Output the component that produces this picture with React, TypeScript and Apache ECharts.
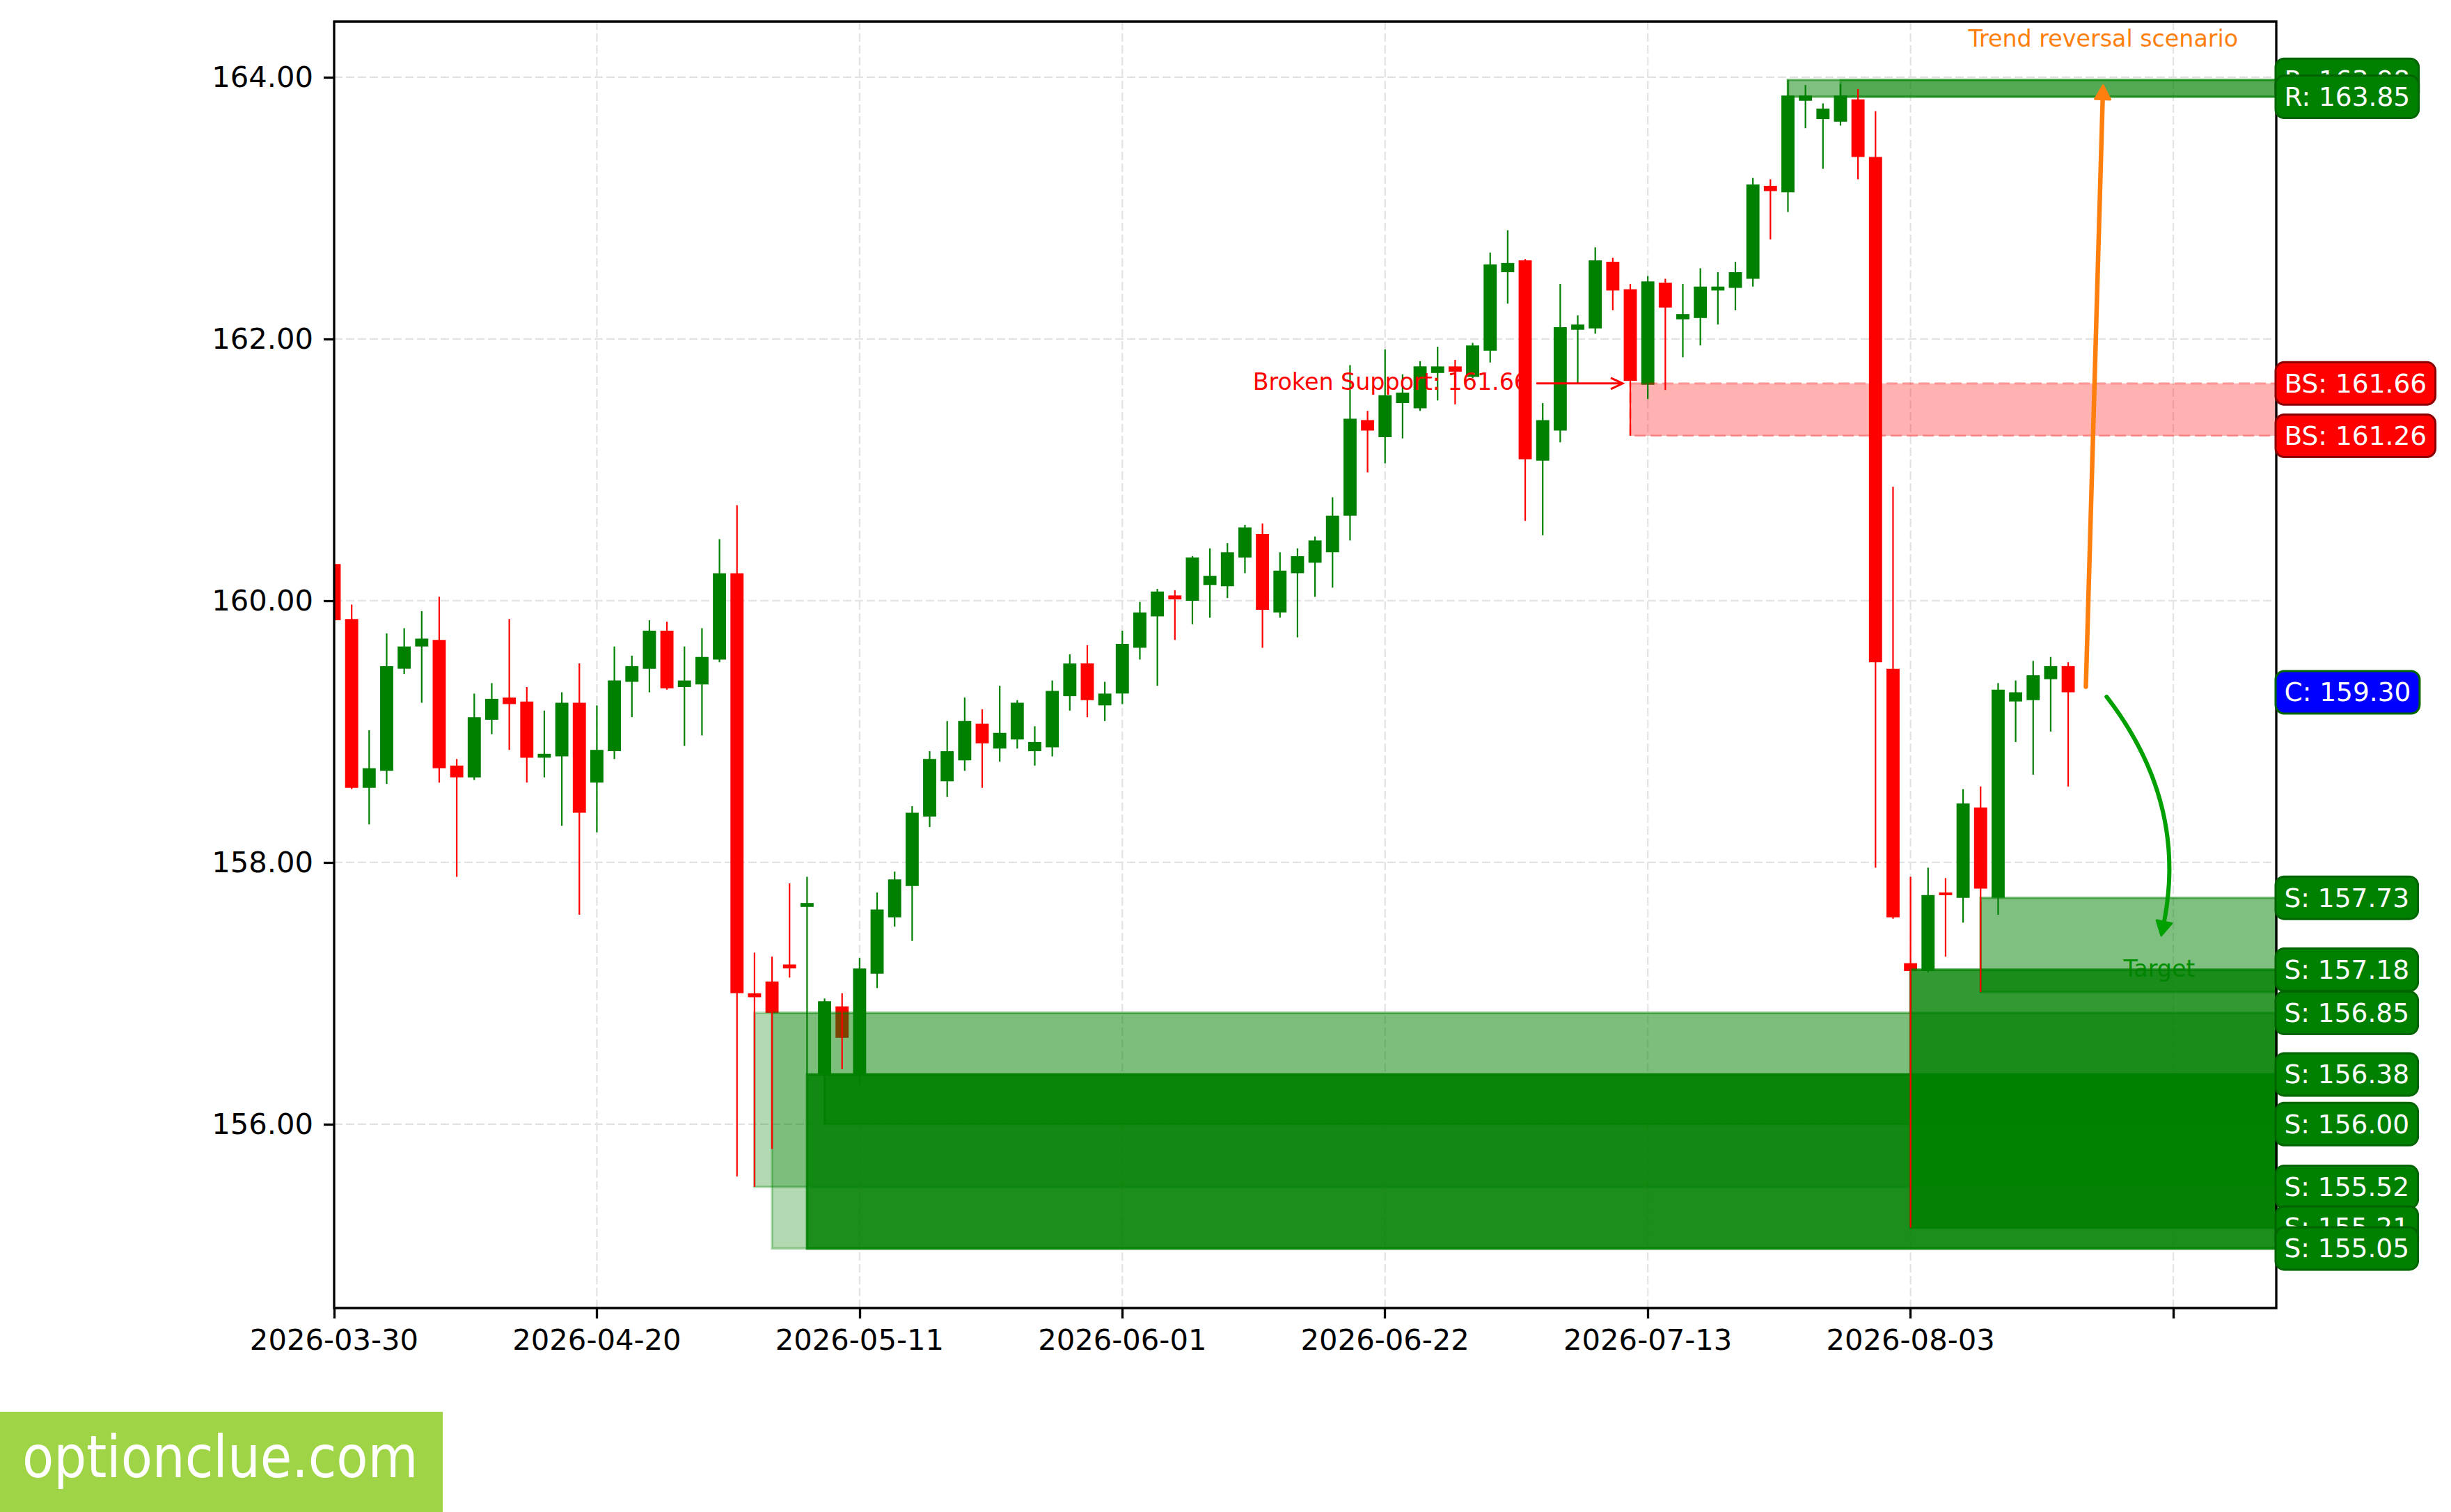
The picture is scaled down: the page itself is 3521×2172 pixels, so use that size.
import React, { useEffect, useRef } from 'react';
import * as echarts from 'echarts';

// ---------- data ----------
const OPEN = [
  160.28, 159.86, 158.57, 158.70, 159.48, 159.65, 159.70, 158.74, 158.65, 159.09,
  159.26, 159.23, 158.80, 158.81, 159.22, 158.61, 158.85, 159.38, 159.48, 159.77,
  159.34, 159.36, 159.55, 160.21, 157.00, 157.09, 157.22, 157.66, 156.38, 156.90,
  156.38, 157.15, 157.58, 157.82, 158.35, 158.62, 158.78, 159.06, 158.87, 158.94,
  158.85, 158.88, 159.27, 159.52, 159.20, 159.29, 159.64, 159.88, 160.04, 160.00,
  160.12, 160.11, 160.33, 160.51, 159.91, 160.21, 160.29, 160.37, 160.65, 161.38,
  161.25, 161.51, 161.47, 161.74, 161.79, 161.71, 161.91, 162.51, 162.60, 161.07,
  161.30, 162.07, 162.08, 162.59, 162.38, 161.65, 162.43, 162.15, 162.16, 162.37,
  162.39, 162.46, 163.17, 163.12, 163.82, 163.68, 163.66, 163.83, 163.39, 159.48,
  157.23, 157.17, 157.77, 157.73, 158.42, 157.73, 159.23, 159.24, 159.40, 159.50,
];
const CLOSE = [
  159.85, 158.57, 158.72, 159.50, 159.65, 159.71, 158.72, 158.65, 159.11, 159.25,
  159.21, 158.80, 158.83, 159.22, 158.38, 158.86, 159.39, 159.50, 159.77, 159.33,
  159.39, 159.57, 160.21, 157.00, 156.97, 156.85, 157.19, 157.69, 156.94, 156.66,
  157.19, 157.64, 157.87, 158.38, 158.79, 158.85, 159.08, 158.91, 158.99, 159.22,
  158.92, 159.31, 159.52, 159.24, 159.29, 159.67, 159.91, 160.07, 160.01, 160.33,
  160.19, 160.37, 160.56, 159.93, 160.23, 160.34, 160.46, 160.65, 161.39, 161.30,
  161.57, 161.59, 161.79, 161.79, 161.75, 161.95, 162.57, 162.58, 161.08, 161.38,
  162.09, 162.11, 162.60, 162.37, 161.68, 162.44, 162.24, 162.19, 162.40, 162.40,
  162.51, 163.18, 163.13, 163.86, 163.86, 163.76, 163.86, 163.39, 159.53, 157.58,
  157.17, 157.75, 157.75, 158.45, 157.80, 159.32, 159.30, 159.43, 159.50, 159.30,
];
const LOW = [
  159.85, 158.56, 158.29, 158.60, 159.44, 159.22, 158.61, 157.89, 158.63, 158.98,
  158.86, 158.61, 158.65, 158.28, 157.60, 158.23, 158.79, 159.11, 159.30, 159.32,
  158.89, 158.97, 159.53, 155.60, 155.52, 155.81, 157.12, 156.38, 156.00, 156.42,
  156.30, 157.04, 157.51, 157.40, 158.27, 158.50, 158.70, 158.57, 158.77, 158.87,
  158.74, 158.81, 159.16, 159.11, 159.08, 159.21, 159.55, 159.35, 159.70, 159.82,
  159.87, 160.02, 160.21, 159.64, 159.87, 159.72, 160.03, 160.10, 160.46, 160.98,
  161.05, 161.24, 161.45, 161.53, 161.50, 161.70, 161.82, 162.27, 160.61, 160.50,
  161.21, 161.66, 162.04, 162.22, 161.26, 161.54, 161.61, 161.86, 161.95, 162.11,
  162.22, 162.40, 162.76, 162.97, 163.61, 163.30, 163.63, 163.22, 157.96, 157.57,
  155.21, 157.16, 157.28, 157.54, 157.01, 157.60, 158.92, 158.67, 159.00, 158.58,
];
const HIGH = [
  160.28, 159.97, 159.01, 159.75, 159.79, 159.92, 160.03, 158.79, 159.29, 159.37,
  159.86, 159.34, 159.16, 159.30, 159.52, 159.20, 159.65, 159.58, 159.85, 159.84,
  159.65, 159.79, 160.47, 160.73, 157.31, 157.28, 157.84, 157.89, 156.96, 157.00,
  157.27, 157.77, 157.93, 158.43, 158.85, 159.08, 159.26, 159.17, 159.35, 159.24,
  159.04, 159.39, 159.59, 159.66, 159.38, 159.77, 159.99, 160.09, 160.08, 160.34,
  160.40, 160.44, 160.58, 160.59, 160.37, 160.40, 160.49, 160.79, 161.80, 161.45,
  161.92, 161.73, 161.83, 161.94, 161.84, 161.97, 162.66, 162.83, 162.61, 161.51,
  162.42, 162.18, 162.70, 162.62, 162.42, 162.48, 162.46, 162.42, 162.54, 162.51,
  162.59, 163.23, 163.22, 163.98, 163.94, 163.80, 163.95, 163.91, 163.74, 160.87,
  157.89, 157.96, 157.88, 158.56, 158.58, 159.37, 159.39, 159.54, 159.57, 159.53,
];

const X_TICKS = [0, 15, 30, 45, 60, 75, 90, 105];
const X_TICK_LABELS = ['2026-03-30', '2026-04-20', '2026-05-11', '2026-06-01', '2026-06-22', '2026-07-13', '2026-08-03', ''];
const Y_TICKS = [156, 158, 160, 162, 164];
const X_MIN = 0;
const X_MAX = 110.88;
const Y_MIN = 154.595;
const Y_MAX = 164.425;
const CANDLE_WIDTH = 0.75; // in candle-index units

// zones: start candle index, top, bottom, opacity, kind
const ZONE_START = [24, 25, 27, 28, 90, 94, 83, 86, 74];
const ZONE_TOP = [156.85, 156.85, 156.38, 156.38, 157.18, 157.73, 163.98, 163.98, 161.66];
const ZONE_BOTTOM = [155.52, 155.05, 155.05, 156.0, 155.21, 157.01, 163.85, 163.85, 161.26];
const ZONE_ALPHA = [0.3, 0.3, 0.85, 0.45, 0.8, 0.5, 0.5, 0.34, 0.3];
const ZONE_KIND = ['S', 'S', 'S', 'S', 'S', 'S', 'R', 'R', 'BS'];

// right-hand level labels
const LEVEL_VALUES = [163.98, 163.85, 161.66, 161.26, 159.3, 157.73, 157.18, 156.85, 156.38, 156.0, 155.52, 155.21, 155.05];
const LEVEL_KIND = ['R', 'R', 'BS', 'BS', 'C', 'S', 'S', 'S', 'S', 'S', 'S', 'S', 'S'];

// annotations (data coordinates)
const TREND_FROM = [100, 159.3];
const TREND_TO = [101, 163.98];
const TREND_TEXT_POS = [101, 164.295];
const TREND_TEXT = 'Trend reversal scenario';
const BS_ARROW_FROM = [68, 161.66];
const BS_ARROW_TO = [74, 161.66];
const BS_TEXT_POS = [68.2, 161.672];
const BS_TEXT = 'Broken Support: 161.66';
const TARGET_FROM = [101, 159.3];
const TARGET_TO = [104.25, 157.4];
const TARGET_TEXT_POS = [104.2, 157.19];
const TARGET_TEXT = 'Target';

// ---------- styles ----------
const FONT = "'DejaVu Sans', Verdana, sans-serif";
const GREEN = '#008000';
const RED = '#ff0000';
const ORANGE = '#ff7f0e';
const ARROW_GREEN = '#00a000';
const LABEL_COLORS: Record<string, [string, string]> = {
  S: ['#008000', '#006400'],
  R: ['#008000', '#006400'],
  BS: ['#ff0000', '#8b0000'],
  C: ['#0000ff', '#006400'],
};

function unit(a: number[], b: number[]) {
  const dx = b[0] - a[0];
  const dy = b[1] - a[1];
  const l = Math.hypot(dx, dy) || 1;
  return [dx / l, dy / l];
}

function head(tip: number[], u: number[], len: number, half: number, color: string) {
  const bx = tip[0] - u[0] * len;
  const by = tip[1] - u[1] * len;
  const nx = -u[1];
  const ny = u[0];
  return {
    type: 'polygon',
    shape: { points: [[tip[0], tip[1]], [bx + nx * half, by + ny * half], [bx - nx * half, by - ny * half]] },
    style: { fill: color, stroke: color, lineWidth: 3, lineJoin: 'round' },
  };
}

function buildOption() {
  const candleData = OPEN.map((o, i) => [i, o, CLOSE[i], LOW[i], HIGH[i]]);
  const wickData = OPEN.map((o, i) => [i, LOW[i], HIGH[i]]);
  const zoneData = ZONE_START.map((s, i) => [s, ZONE_TOP[i], ZONE_BOTTOM[i]]);
  const gridData = [
    ...Y_TICKS.map((v) => [X_MIN, v, 0]),
    ...X_TICKS.filter((v) => v > X_MIN).map((v) => [v, Y_MIN, 1]),
  ];
  const labelData = LEVEL_VALUES.map((v, i) => {
    const k = LEVEL_KIND[i];
    return {
      value: [X_MAX, v],
      label: {
        formatter: `${k}: ${v.toFixed(2)}`,
        backgroundColor: LABEL_COLORS[k][0],
        borderColor: LABEL_COLORS[k][1],
      },
    };
  });
  const annoData = [
    [TREND_FROM[0], TREND_FROM[1]],
    [TREND_TEXT_POS[0], TREND_TEXT_POS[1]],
    [BS_ARROW_FROM[0], BS_ARROW_FROM[1]],
    [BS_TEXT_POS[0], BS_TEXT_POS[1]],
    [TARGET_FROM[0], TARGET_FROM[1]],
  ];

  return {
    animation: false,
    backgroundColor: '#ffffff',
    grid: {
      left: 480,
      top: 31,
      width: 2790,
      height: 1848,
      show: true,
      borderColor: '#000',
      borderWidth: 3.3,
      backgroundColor: 'rgba(0,0,0,0)',
      z: 10,
    },
    xAxis: {
      type: 'value',
      min: X_MIN,
      max: X_MAX,
      splitLine: { show: false },
      axisLine: { show: false },
      axisTick: { show: true, customValues: X_TICKS, length: 15, lineStyle: { color: '#000', width: 3.3 } },
      axisLabel: {
        customValues: X_TICKS,
        formatter: (v: number) => {
          const i = X_TICKS.indexOf(v);
          return i >= 0 ? X_TICK_LABELS[i] : '';
        },
        fontSize: 41.7,
        lineHeight: 42,
        margin: 24,
        color: '#000',
        fontFamily: FONT,
      },
    },
    yAxis: {
      type: 'value',
      min: Y_MIN,
      max: Y_MAX,
      splitLine: { show: false },
      axisLine: { show: false },
      axisTick: { show: true, customValues: Y_TICKS, length: 15, lineStyle: { color: '#000', width: 3.3 } },
      axisLabel: {
        customValues: Y_TICKS,
        formatter: (v: number) => v.toFixed(2),
        fontSize: 41.7,
        margin: 30,
        color: '#000',
        fontFamily: FONT,
      },
    },
    graphic: [
      {
        type: 'rect',
        left: 0,
        top: 2028,
        shape: { width: 636, height: 144 },
        style: { fill: '#9fd447' },
        silent: true,
      },
      {
        type: 'text',
        x: 32,
        y: 2093,
        scaleX: 0.88,
        style: { text: 'optionclue.com', fill: '#ffffff', fontSize: 84, fontFamily: FONT, align: 'left', verticalAlign: 'middle' },
        silent: true,
      },
    ],
    series: [
      {
        name: 'grid',
        type: 'custom',
        z: 1,
        silent: true,
        data: gridData,
        renderItem: (params: any, api: any) => {
          const kind = api.value(2);
          const v = kind === 0 ? api.value(1) : api.value(0);
          const p1 = kind === 0 ? api.coord([X_MIN, v]) : api.coord([v, Y_MIN]);
          const p2 = kind === 0 ? api.coord([X_MAX, v]) : api.coord([v, Y_MAX]);
          return {
            type: 'line',
            shape: { x1: p1[0], y1: p1[1], x2: p2[0], y2: p2[1] },
            style: { stroke: '#e3e3e3', lineWidth: 2.2, lineDash: [12, 5], fill: 'none' },
          };
        },
      },
      {
        name: 'candle bodies',
        type: 'custom',
        z: 2,
        silent: true,
        clip: true,
        data: candleData,
        encode: { x: 0, y: [1, 2, 3, 4] },
        renderItem: (params: any, api: any) => {
          const x = api.value(0);
          const o = api.value(1);
          const c = api.value(2);
          const w = api.size([CANDLE_WIDTH, 0])[0];
          const pTop = api.coord([x, Math.max(o, c)]);
          const pBot = api.coord([x, Math.min(o, c)]);
          const h = Math.max(pBot[1] - pTop[1], 2.2);
          return {
            type: 'rect',
            shape: { x: pTop[0] - w / 2, y: pTop[1], width: w, height: h },
            style: { fill: c >= o ? GREEN : RED, stroke: 'none' },
          };
        },
      },
      {
        name: 'target-text',
        type: 'custom',
        z: 2,
        silent: true,
        data: [[TARGET_TEXT_POS[0], TARGET_TEXT_POS[1]]],
        renderItem: (params: any, api: any) => {
          const p = api.coord([api.value(0), api.value(1)]);
          return {
            type: 'text',
            x: p[0],
            y: p[1],
            style: { text: TARGET_TEXT, fill: ARROW_GREEN, fontSize: 33.3, fontFamily: FONT, align: 'center', verticalAlign: 'middle' },
          };
        },
      },
      {
        name: 'zones',
        type: 'custom',
        z: 3,
        silent: true,
        data: zoneData,
        renderItem: (params: any, api: any) => {
          const i = params.dataIndex;
          const p1 = api.coord([api.value(0), api.value(1)]);
          const p2 = api.coord([X_MAX, api.value(2)]);
          const rgb = ZONE_KIND[i] === 'BS' ? '255,0,0' : '0,128,0';
          const c = `rgba(${rgb},${ZONE_ALPHA[i]})`;
          return {
            type: 'rect',
            shape: { x: p1[0], y: p1[1], width: p2[0] - p1[0], height: p2[1] - p1[1] },
            style: {
              fill: c,
              stroke: c,
              lineWidth: ZONE_KIND[i] === 'BS' ? 3 : 3.5,
              lineDash: ZONE_KIND[i] === 'BS' ? [16, 7] : null,
            },
          };
        },
      },
      {
        name: 'wicks',
        type: 'custom',
        z: 4,
        silent: true,
        clip: true,
        data: wickData,
        renderItem: (params: any, api: any) => {
          const i = params.dataIndex;
          const x = api.value(0);
          const p1 = api.coord([x, api.value(1)]);
          const p2 = api.coord([x, api.value(2)]);
          const color = CLOSE[i] >= OPEN[i] ? GREEN : RED;
          return {
            type: 'line',
            shape: { x1: p1[0], y1: p1[1], x2: p2[0], y2: p2[1] },
            style: { stroke: color, lineWidth: 2.2, fill: 'none' },
          };
        },
      },
      {
        name: 'annotations',
        type: 'custom',
        z: 5,
        silent: true,
        data: annoData,
        renderItem: (params: any, api: any) => {
          const i = params.dataIndex;
          if (i === 0) {
            const p1 = api.coord(TREND_FROM);
            const p2 = api.coord(TREND_TO);
            const u = unit(p1, p2);
            const a = [p1[0] + u[0] * 8, p1[1] + u[1] * 8];
            const tip = [p2[0] - u[0] * 8, p2[1] - u[1] * 8];
            const le = [tip[0] - u[0] * 14, tip[1] - u[1] * 14];
            return {
              type: 'group',
              children: [
                { type: 'line', shape: { x1: a[0], y1: a[1], x2: le[0], y2: le[1] }, style: { stroke: ORANGE, lineWidth: 6.5, lineCap: 'round', fill: 'none' } },
                head(tip, u, 20, 11, ORANGE),
              ],
            };
          }
          if (i === 1) {
            const p = api.coord(TREND_TEXT_POS);
            return {
              type: 'text',
              x: p[0],
              y: p[1],
              style: { text: TREND_TEXT, fill: ORANGE, fontSize: 33.3, fontFamily: FONT, align: 'center', verticalAlign: 'middle' },
            };
          }
          if (i === 2) {
            const p1 = api.coord(BS_ARROW_FROM);
            const p2 = api.coord(BS_ARROW_TO);
            const u = unit(p1, p2);
            const a = [p1[0] + u[0] * 16, p1[1] + u[1] * 16];
            const tip = [p2[0] - u[0] * 11, p2[1] - u[1] * 11];
            const nx = -u[1];
            const ny = u[0];
            const bx = tip[0] - u[0] * 17;
            const by = tip[1] - u[1] * 17;
            return {
              type: 'group',
              children: [
                { type: 'line', shape: { x1: a[0], y1: a[1], x2: tip[0], y2: tip[1] }, style: { stroke: RED, lineWidth: 3, fill: 'none' } },
                {
                  type: 'polyline',
                  shape: { points: [[bx + nx * 8, by + ny * 8], [tip[0], tip[1]], [bx - nx * 8, by - ny * 8]] },
                  style: { stroke: RED, lineWidth: 3, fill: 'none', lineJoin: 'miter' },
                },
              ],
            };
          }
          if (i === 3) {
            const p = api.coord(BS_TEXT_POS);
            return {
              type: 'text',
              x: p[0],
              y: p[1],
              style: { text: BS_TEXT, fill: RED, fontSize: 33.3, fontFamily: FONT, align: 'right', verticalAlign: 'middle' },
            };
          }
          // curved target arrow
          const S = api.coord(TARGET_FROM);
          const E = api.coord(TARGET_TO);
          const dx = E[0] - S[0];
          const dy = E[1] - S[1];
          const rad = 0.23;
          const ctrl = [(S[0] + E[0]) / 2 + rad * dy, (S[1] + E[1]) / 2 - rad * dx];
          const u0 = unit(S, ctrl);
          const u1 = unit(ctrl, E);
          const a = [S[0] + u0[0] * 8, S[1] + u0[1] * 8];
          const tip = [E[0] - u1[0] * 8, E[1] - u1[1] * 8];
          const le = [tip[0] - u1[0] * 14, tip[1] - u1[1] * 14];
          return {
            type: 'group',
            children: [
              {
                type: 'bezierCurve',
                shape: { x1: a[0], y1: a[1], x2: le[0], y2: le[1], cpx1: ctrl[0], cpy1: ctrl[1] },
                style: { stroke: ARROW_GREEN, lineWidth: 6, lineCap: 'round', fill: 'none' },
              },
              head(tip, u1, 20, 11, ARROW_GREEN),
            ],
          };
        },
      },
      {
        name: 'levels',
        type: 'scatter',
        z: 12,
        silent: true,
        clip: false,
        symbolSize: 1,
        itemStyle: { color: 'rgba(0,0,0,0)', opacity: 1 },
        data: labelData,
        label: {
          show: true,
          position: 'right',
          distance: 0,
          color: '#ffffff',
          opacity: 1,
          fontSize: 37.5,
          fontFamily: FONT,
          lineHeight: 38,
          padding: [10, 11, 10, 11],
          borderWidth: 3,
          borderRadius: 11,
        },
      },
    ],
  };
}

export default function App() {
  const ref = useRef<HTMLDivElement>(null);
  useEffect(() => {
    document.body.style.margin = '0';
    const chart = echarts.init(ref.current as HTMLDivElement, null, { renderer: 'svg' });
    chart.setOption(buildOption() as any);
    return () => {
      chart.dispose();
    };
  }, []);
  return <div ref={ref} style={{ width: 3521, height: 2172, overflow: 'hidden' }} />;
}
